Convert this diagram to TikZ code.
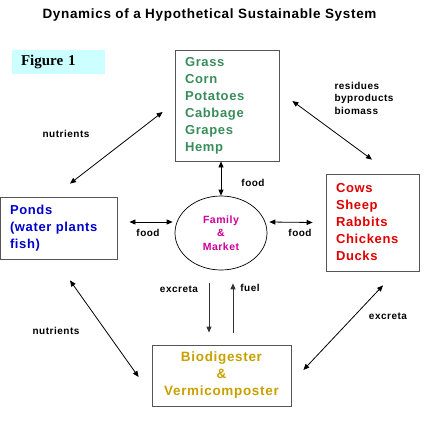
\documentclass[tikz,border=0pt]{standalone}
\usepackage{fontspec}
\setmainfont{Liberation Sans}[LetterSpace=5]
\newfontfamily\figfont{Liberation Serif}
\usetikzlibrary{shapes.geometric, arrows.meta}
\usetikzlibrary{positioning}
\definecolor{cropgreen}{RGB}{58,140,90}
\definecolor{pondblue}{RGB}{0,0,204}
\definecolor{animalred}{RGB}{224,0,0}
\definecolor{marketpink}{RGB}{204,0,153}
\definecolor{biogold}{RGB}{200,160,0}
\definecolor{figcyan}{RGB}{204,255,255}
\definecolor{boxgray}{RGB}{85,85,85}

\begin{document}
\begin{tikzpicture}[x=1pt, y=-1pt, font=\bfseries]

\tikzstyle{itembox} = [rectangle, draw=boxgray, line width=0.8pt, inner xsep=10pt, inner ysep=0pt, align=left, font=\fontsize{13}{17}\selectfont\bfseries]
\tikzstyle{hub} = [ellipse, draw=black, line width=0.7pt, minimum width=92pt, minimum height=74pt, inner sep=0pt, align=center, font=\fontsize{10.5}{13.5}\selectfont\bfseries]
\tikzstyle{note} = [inner sep=0pt, align=left, font=\fontsize{10}{12.5}\selectfont\bfseries]
\tikzstyle{twoway} = [line width=0.8pt, {Triangle[length=6pt,width=5pt]}-{Triangle[length=6pt,width=5pt]}]
\tikzstyle{oneway} = [line width=1pt, draw=black!80, -{Triangle[length=6pt,width=5pt]}]

\useasboundingbox (0,0) rectangle (442,423);

% title and figure tag
\node (title) at (209.5,15) [font=\fontsize{13.5}{15}\selectfont\bfseries] {Dynamics of a Hypothetical Sustainable System};
\node (figtag) at (58.5,62) [rectangle, fill=figcyan, minimum width=93pt, minimum height=24pt, inner xsep=9pt, text width=75pt, align=left, font=\fontsize{15}{16}\selectfont\figfont\bfseries] {Figure 1};

% main blocks
\node (crops) at (227,105.5) [itembox, text width=84pt, minimum height=111pt, text=cropgreen] {Grass\\Corn\\Potatoes\\Cabbage\\Grapes\\Hemp};
\node (ponds) at (58.5,228) [itembox, text width=97pt, minimum height=62pt, text=pondblue] {Ponds\\(water plants\\fish)};
\node (animals) at (372.5,222.5) [itembox, text width=73pt, minimum height=97pt, text=animalred] {Cows\\Sheep\\Rabbits\\Chickens\\Ducks};
\node (market) at (221,233) [hub, text=marketpink] {Family\\\&\\Market};
\node (bio) at (221.5,375.5) [itembox, align=center, text width=119pt, minimum height=61pt, text=biogold, font=\fontsize{13.5}{17}\selectfont\bfseries] {Biodigester\\\&\\Vermicomposter};

% labels
\node (food1) at (253,183) [note] {food};
\node (food2) at (148,233) [note] {food};
\node (food3) at (300,233) [note] {food};
\node (nutr1) at (66,134) [note] {nutrients};
\node (nutr2) at (56,331) [note] {nutrients};
\node (resid) at (364,98) [note] {residues\\byproducts\\biomass};
\node (excr1) at (179,289) [note] {excreta};
\node (fuel) at (250,288) [note] {fuel};
\node (excr2) at (388,316) [note] {excreta};

% connectors
\draw [twoway] (market.north) -- (market.north |- crops.south);
\draw [twoway] ([shift={(12,-6)}]ponds.east) -- ([shift={(-2,-11)}]market.west);
\draw [twoway] ([shift={(2,-11)}]market.east) -- ([shift={(-13,0)}]animals.west);
\draw [twoway] ([shift={(11.5,-13)}]ponds.north) -- ([shift={(-12,6.5)}]crops.west);
\draw [twoway] ([shift={(13,-4.5)}]crops.east) -- ([shift={(-0.5,-14)}]animals.north);
\draw [twoway] ([shift={(11.5,21)}]ponds.south) -- ([shift={(-13,1.5)}]bio.west);
\draw [twoway] ([shift={(12,-5.5)}]bio.east) -- ([shift={(10.5,14)}]animals.south);
\draw [oneway] ([shift={(-12,13)}]market.south) -- ([shift={(-12.5,-12)}]bio.north);
\draw [oneway] ([shift={(11.5,-12)}]bio.north) -- ([shift={(12,13)}]market.south);
\end{tikzpicture}
\end{document}
